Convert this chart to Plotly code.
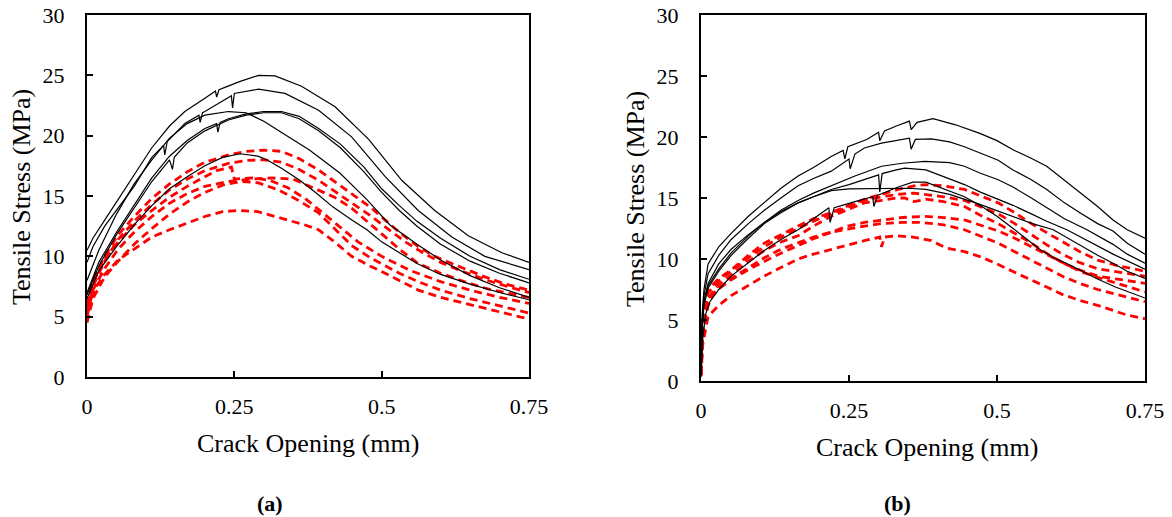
import plotly.graph_objects as go

# ---------------- data ----------------
X_TICKS = [0, 0.25, 0.5, 0.75]
X_TICK_LABELS = ["0", "0.25", "0.5", "0.75"]
Y_TICKS = [0, 5, 10, 15, 20, 25, 30]

# Panel (a) - black solid curves (crack opening mm, stress MPa)
A_BLACK_1 = [(0, 10.5), (0.01, 11.5), (0.03, 13.0), (0.053, 14.7), (0.08, 16.8), (0.11, 19.0), (0.14, 20.8),
             (0.166, 22.0), (0.2, 23.1), (0.218, 23.7), (0.22, 23.2), (0.224, 23.8), (0.234, 24.0), (0.26, 24.5),
             (0.291, 25.0), (0.319, 24.95), (0.364, 24.1), (0.421, 22.4), (0.478, 19.7), (0.534, 16.3),
             (0.59, 13.8), (0.647, 11.7), (0.704, 10.3), (0.75, 9.5)]
A_BLACK_2 = [(0, 9.5), (0.01, 10.8), (0.03, 12.5), (0.053, 14.0), (0.08, 15.8), (0.11, 18.2), (0.13, 19.2),
             (0.132, 18.4), (0.136, 19.5), (0.166, 21.0), (0.19, 21.7), (0.192, 21.1), (0.196, 21.9), (0.2, 22.0),
             (0.24, 23.1), (0.245, 23.3), (0.247, 22.3), (0.25, 23.5), (0.291, 23.85), (0.336, 23.5),
             (0.393, 22.1), (0.449, 19.9), (0.506, 16.6), (0.562, 13.8), (0.619, 11.6), (0.675, 10.0), (0.75, 8.9)]
A_BLACK_3 = [(0, 8.0), (0.02, 10.5), (0.05, 13.5), (0.08, 16.0), (0.11, 18.0), (0.14, 19.8), (0.17, 21.0),
             (0.2, 21.7), (0.24, 22.0), (0.27, 21.9), (0.3, 21.2), (0.333, 20.2), (0.378, 18.8), (0.429, 16.9),
             (0.475, 14.7), (0.514, 12.6), (0.56, 11.0), (0.6, 9.7), (0.65, 8.4), (0.7, 7.4), (0.75, 6.6)]
A_BLACK_4 = [(0, 7.0), (0.02, 9.5), (0.05, 12.0), (0.08, 14.3), (0.11, 16.5), (0.14, 18.3), (0.17, 19.6),
             (0.2, 20.6), (0.22, 21.0), (0.222, 20.3), (0.226, 21.1), (0.24, 21.4), (0.27, 21.8), (0.3, 22.0),
             (0.33, 22.0), (0.36, 21.6), (0.393, 20.6), (0.43, 19.3), (0.47, 17.4), (0.5, 15.6), (0.53, 14.2),
             (0.56, 12.9), (0.6, 11.5), (0.65, 10.0), (0.7, 8.9), (0.75, 8.1)]
A_BLACK_5 = [(0, 6.8), (0.02, 9.2), (0.05, 11.8), (0.08, 14.0), (0.11, 16.2), (0.14, 18.0), (0.145, 17.2),
             (0.148, 18.2), (0.17, 19.4), (0.2, 20.4), (0.24, 21.3), (0.27, 21.7), (0.3, 21.9), (0.33, 21.9),
             (0.36, 21.4), (0.393, 20.4), (0.43, 19.0), (0.47, 17.0), (0.5, 15.3), (0.53, 13.8), (0.56, 12.5),
             (0.6, 11.0), (0.65, 9.6), (0.7, 8.6), (0.75, 7.8)]
A_BLACK_6 = [(0, 6.5), (0.02, 8.8), (0.05, 10.8), (0.08, 12.6), (0.11, 14.2), (0.14, 15.6), (0.17, 16.6),
             (0.2, 17.5), (0.23, 18.2), (0.26, 18.5), (0.29, 18.3), (0.305, 18.0), (0.33, 17.3), (0.361, 16.3),
             (0.39, 15.2), (0.417, 14.1), (0.45, 13.0), (0.475, 12.2), (0.5, 11.2), (0.53, 10.3), (0.56, 9.4),
             (0.6, 8.5), (0.65, 7.7), (0.7, 7.0), (0.75, 6.4)]

# Panel (a) - red dashed curves
A_RED_1 = [(0, 6.0), (0.01, 8.0), (0.03, 10.0), (0.053, 11.8), (0.08, 13.3), (0.11, 14.8), (0.14, 16.0),
           (0.17, 17.0), (0.2, 17.8), (0.24, 18.4), (0.27, 18.7), (0.3, 18.8), (0.33, 18.7), (0.36, 18.1),
           (0.393, 17.15), (0.42, 16.2), (0.449, 15.2), (0.48, 14.1), (0.506, 13.0), (0.53, 12.0), (0.562, 10.8),
           (0.59, 10.0), (0.619, 9.4), (0.65, 8.8), (0.675, 8.3), (0.71, 7.7), (0.75, 7.2)]
A_RED_2 = [(0, 5.5), (0.01, 7.5), (0.03, 9.6), (0.053, 11.4), (0.08, 12.9), (0.11, 14.3), (0.14, 15.5),
           (0.17, 16.4), (0.2, 17.1), (0.24, 17.7), (0.27, 17.95), (0.3, 18.0), (0.33, 17.8), (0.36, 17.2),
           (0.393, 16.3), (0.42, 15.4), (0.45, 14.4), (0.48, 13.4), (0.51, 12.3), (0.54, 11.2), (0.57, 10.3),
           (0.6, 9.5), (0.64, 8.7), (0.68, 8.0), (0.72, 7.4), (0.75, 7.0)]
A_RED_3 = [(0, 5.0), (0.01, 7.2), (0.03, 9.0), (0.053, 10.6), (0.08, 12.0), (0.11, 13.3), (0.14, 14.4),
           (0.17, 15.2), (0.2, 15.8), (0.24, 16.2), (0.28, 16.4), (0.313, 16.5), (0.35, 16.4), (0.393, 15.5),
           (0.42, 14.9), (0.449, 14.0), (0.48, 12.7), (0.506, 11.6), (0.53, 10.6), (0.562, 9.4), (0.6, 8.6),
           (0.64, 7.9), (0.68, 7.3), (0.72, 6.9), (0.75, 6.6)]
A_RED_4 = [(0, 4.5), (0.01, 6.5), (0.03, 8.3), (0.053, 9.6), (0.08, 11.0), (0.11, 12.3), (0.14, 13.5),
           (0.17, 14.5), (0.2, 15.3), (0.23, 15.9), (0.26, 16.2), (0.29, 16.1), (0.325, 15.5), (0.36, 14.6),
           (0.393, 13.6), (0.42, 12.3), (0.449, 10.9), (0.48, 9.9), (0.506, 9.2), (0.53, 8.6), (0.562, 7.9),
           (0.6, 7.2), (0.65, 6.5), (0.7, 5.9), (0.75, 5.3)]
A_RED_5 = [(0, 5.5), (0.014, 7.4), (0.03, 8.5), (0.053, 9.7), (0.08, 10.6), (0.11, 11.6), (0.14, 12.2),
           (0.166, 12.7), (0.2, 13.3), (0.23, 13.7), (0.257, 13.8), (0.29, 13.7), (0.336, 13.1), (0.37, 12.6),
           (0.393, 12.2), (0.42, 11.2), (0.449, 10.0), (0.48, 9.2), (0.506, 8.6), (0.53, 8.0), (0.562, 7.2),
           (0.6, 6.6), (0.65, 6.0), (0.7, 5.4), (0.75, 4.8)]
A_RED_6 = [(0, 5.8), (0.01, 7.8), (0.03, 9.8), (0.053, 11.2), (0.08, 12.6), (0.11, 13.8), (0.14, 14.9),
           (0.17, 15.8), (0.2, 16.6), (0.22, 17.1), (0.245, 17.4), (0.25, 16.4), (0.28, 16.5), (0.31, 16.3),
           (0.34, 15.7), (0.37, 14.8), (0.4, 13.6), (0.43, 12.4), (0.46, 11.2), (0.5, 10.0), (0.55, 8.8),
           (0.6, 7.9), (0.65, 7.2), (0.7, 6.6), (0.75, 6.1)]

# Panel (b) - black solid curves
B_BLACK_1 = [(0, 0.8), (0.002, 5.5), (0.005, 7.5), (0.012, 9.6), (0.03, 11.0), (0.051, 12.1), (0.08, 13.5),
             (0.107, 14.6), (0.135, 15.8), (0.164, 16.8), (0.19, 17.5), (0.22, 18.4), (0.24, 18.9), (0.243, 18.2),
             (0.248, 19.2), (0.28, 19.8), (0.30, 20.4), (0.302, 19.7), (0.31, 20.5), (0.33, 20.9), (0.352, 21.3),
             (0.355, 20.6), (0.365, 21.2), (0.392, 21.5), (0.43, 21.0), (0.471, 20.3), (0.5, 19.7),
             (0.527, 18.95), (0.556, 18.3), (0.584, 17.6), (0.61, 16.6), (0.64, 15.4), (0.67, 14.3),
             (0.696, 13.2), (0.72, 12.4), (0.75, 11.7)]
B_BLACK_2 = [(0, 0.6), (0.002, 5.0), (0.005, 7.0), (0.012, 8.8), (0.03, 10.3), (0.051, 11.6), (0.08, 12.9),
             (0.107, 14.0), (0.135, 15.0), (0.164, 16.0), (0.19, 16.6), (0.22, 17.2), (0.25, 18.2), (0.252, 17.4),
             (0.26, 18.6), (0.276, 19.1), (0.305, 19.5), (0.33, 19.7), (0.352, 19.9), (0.355, 19.0),
             (0.362, 19.8), (0.389, 19.85), (0.42, 19.6), (0.445, 19.2), (0.471, 18.7), (0.502, 18.1),
             (0.527, 17.3), (0.558, 16.5), (0.584, 15.7), (0.614, 14.6), (0.64, 13.8), (0.67, 12.9),
             (0.696, 12.3), (0.72, 11.3), (0.75, 10.4)]
B_BLACK_3 = [(0, 0.5), (0.002, 4.5), (0.005, 6.5), (0.012, 7.8), (0.03, 9.2), (0.051, 10.5), (0.08, 11.9),
             (0.107, 13.0), (0.135, 14.0), (0.164, 14.8), (0.19, 15.4), (0.22, 16.0), (0.26, 16.8), (0.305, 17.6),
             (0.34, 17.85), (0.378, 18.0), (0.42, 17.9), (0.445, 17.6), (0.471, 17.05), (0.502, 16.5),
             (0.527, 15.9), (0.558, 15.0), (0.584, 14.2), (0.614, 13.3), (0.652, 12.4), (0.696, 11.2),
             (0.72, 10.4), (0.75, 9.65)]
B_BLACK_4 = [(0, 0.5), (0.002, 4.2), (0.005, 6.2), (0.012, 7.6), (0.03, 9.0), (0.051, 10.3), (0.08, 11.7),
             (0.107, 12.9), (0.135, 13.8), (0.164, 14.6), (0.19, 15.1), (0.22, 15.7), (0.25, 16.1), (0.276, 16.5),
             (0.30, 16.9), (0.302, 15.5), (0.306, 17.0), (0.33, 17.3), (0.344, 17.45), (0.38, 17.3),
             (0.416, 16.6), (0.445, 16.1), (0.471, 15.5), (0.502, 14.9), (0.527, 14.4), (0.558, 13.7),
             (0.584, 13.1), (0.618, 12.4), (0.668, 11.1), (0.696, 10.4), (0.75, 9.16)]
B_BLACK_5 = [(0, 0.5), (0.002, 4.5), (0.005, 6.5), (0.012, 8.0), (0.03, 9.6), (0.051, 10.8), (0.08, 12.0),
             (0.107, 13.0), (0.135, 13.9), (0.164, 14.6), (0.19, 15.1), (0.22, 15.6), (0.25, 15.75),
             (0.30, 15.8), (0.35, 15.8), (0.38, 15.7), (0.42, 15.3), (0.47, 14.5), (0.52, 13.6), (0.56, 12.9),
             (0.595, 12.4), (0.62, 11.7), (0.64, 11.1), (0.67, 10.3), (0.696, 9.65), (0.72, 9.0), (0.75, 8.4)]
B_BLACK_6 = [(0, 0.3), (0.003, 3.5), (0.008, 5.5), (0.015, 6.5), (0.03, 7.5), (0.051, 8.6), (0.08, 9.7),
             (0.107, 10.7), (0.135, 11.6), (0.164, 12.4), (0.19, 13.3), (0.216, 14.2), (0.218, 13.0),
             (0.225, 14.2), (0.26, 14.7), (0.29, 15.1), (0.292, 14.3), (0.298, 15.2), (0.333, 15.9),
             (0.358, 16.3), (0.38, 16.3), (0.414, 15.7), (0.445, 15.1), (0.471, 14.4), (0.50, 13.5),
             (0.53, 12.4), (0.557, 11.4), (0.572, 10.8), (0.60, 10.0), (0.617, 9.65), (0.64, 9.1),
             (0.668, 8.4), (0.70, 7.7), (0.75, 6.8)]

# Panel (b) - red dashed curves
B_RED_1 = [(0, 0.6), (0.003, 4.5), (0.012, 7.5), (0.03, 8.4), (0.051, 9.1), (0.08, 10.3), (0.107, 11.3),
           (0.135, 12.0), (0.164, 12.7), (0.19, 13.3), (0.22, 13.8), (0.25, 14.4), (0.276, 14.9), (0.305, 15.3),
           (0.333, 15.7), (0.36, 16.0), (0.378, 16.1), (0.41, 16.0), (0.445, 15.7), (0.471, 15.2),
           (0.502, 14.6), (0.53, 13.8), (0.558, 12.9), (0.586, 12.1), (0.614, 11.3), (0.64, 10.6),
           (0.67, 9.9), (0.70, 9.5), (0.75, 9.0)]
B_RED_2 = [(0, 0.5), (0.003, 4.2), (0.012, 6.8), (0.03, 7.9), (0.051, 8.7), (0.08, 9.8), (0.107, 10.7),
           (0.135, 11.4), (0.164, 11.9), (0.19, 12.7), (0.22, 13.5), (0.25, 14.1), (0.276, 14.6), (0.305, 14.8),
           (0.33, 15.0), (0.344, 15.0), (0.36, 14.7), (0.38, 14.9), (0.41, 14.7), (0.445, 14.3), (0.471, 13.6),
           (0.502, 12.9), (0.53, 12.1), (0.558, 11.3), (0.586, 10.4), (0.614, 9.6), (0.64, 9.1),
           (0.67, 8.6), (0.71, 8.3), (0.75, 8.0)]
B_RED_3 = [(0, 0.5), (0.003, 4.0), (0.012, 6.2), (0.023, 7.3), (0.051, 8.3), (0.079, 9.1), (0.107, 9.8),
           (0.136, 10.5), (0.164, 11.1), (0.192, 11.7), (0.22, 12.2), (0.248, 12.7), (0.276, 13.0),
           (0.305, 13.2), (0.34, 13.4), (0.378, 13.5), (0.41, 13.4), (0.445, 13.2), (0.471, 12.8),
           (0.502, 12.3), (0.53, 11.7), (0.558, 11.0), (0.586, 10.3), (0.614, 9.6), (0.64, 9.0),
           (0.67, 8.5), (0.71, 7.9), (0.75, 7.3)]
B_RED_4 = [(0, 0.4), (0.003, 3.0), (0.012, 5.3), (0.03, 6.2), (0.051, 7.0), (0.08, 7.8), (0.107, 8.6),
           (0.135, 9.3), (0.164, 10.0), (0.19, 10.4), (0.22, 10.8), (0.25, 11.2), (0.276, 11.5), (0.302, 11.8),
           (0.305, 11.0), (0.31, 11.8), (0.33, 11.9), (0.358, 11.8), (0.389, 11.5), (0.414, 10.9),
           (0.445, 10.6), (0.471, 10.2), (0.5, 9.6), (0.527, 8.97), (0.558, 8.3), (0.584, 7.7), (0.61, 7.1),
           (0.64, 6.6), (0.67, 6.2), (0.696, 5.8), (0.72, 5.4), (0.75, 5.1)]
B_RED_5 = [(0, 0.5), (0.003, 4.3), (0.012, 6.5), (0.03, 7.6), (0.051, 8.4), (0.08, 9.3), (0.107, 10.1),
           (0.135, 10.8), (0.164, 11.3), (0.19, 11.8), (0.22, 12.2), (0.25, 12.5), (0.276, 12.7), (0.305, 12.9),
           (0.34, 13.0), (0.37, 13.0), (0.41, 12.8), (0.445, 12.4), (0.471, 11.9), (0.502, 11.3),
           (0.53, 10.6), (0.558, 9.9), (0.586, 9.2), (0.614, 8.5), (0.64, 8.0), (0.67, 7.5), (0.71, 7.0),
           (0.75, 6.5)]
B_RED_6 = [(0, 0.6), (0.003, 4.6), (0.012, 7.2), (0.03, 8.2), (0.051, 9.0), (0.08, 10.1), (0.107, 11.0),
           (0.135, 11.8), (0.164, 12.5), (0.19, 13.1), (0.22, 13.7), (0.25, 14.3), (0.276, 14.8), (0.305, 15.1),
           (0.333, 15.3), (0.36, 15.4), (0.38, 15.3), (0.41, 15.1), (0.445, 14.8), (0.471, 14.3),
           (0.502, 13.7), (0.53, 12.9), (0.558, 12.0), (0.586, 11.1), (0.614, 10.3), (0.64, 9.7),
           (0.67, 9.2), (0.71, 8.9), (0.75, 8.6)]

A_BLACK = [A_BLACK_1, A_BLACK_2, A_BLACK_3, A_BLACK_4, A_BLACK_5, A_BLACK_6]
A_RED = [A_RED_1, A_RED_2, A_RED_3, A_RED_4, A_RED_5, A_RED_6]
B_BLACK = [B_BLACK_1, B_BLACK_2, B_BLACK_3, B_BLACK_4, B_BLACK_5, B_BLACK_6]
B_RED = [B_RED_1, B_RED_2, B_RED_3, B_RED_4, B_RED_5, B_RED_6]

Y_TITLE = "Tensile Stress (MPa)"
X_TITLE = "Crack Opening (mm)"
PANEL_LABELS = ["(a)", "(b)"]

# ---------------- figure ----------------
W, H = 1172, 517
FONT = "Times New Roman, Liberation Serif, serif"

fig = go.Figure()


def add_curves(curves, xa, ya, red):
    for c in curves:
        xs = [p[0] for p in c]
        ys = [p[1] for p in c]
        if red:
            line = dict(color="#ff0000", width=2.8, dash="8px,5px")
        else:
            line = dict(color="#000000", width=1.2)
        fig.add_trace(go.Scatter(x=xs, y=ys, mode="lines", line=line, xaxis=xa, yaxis=ya,
                                 showlegend=False, hoverinfo="skip"))


add_curves(A_RED, "x", "y", True)
add_curves(A_BLACK, "x", "y", False)
add_curves(B_RED, "x2", "y2", True)
add_curves(B_BLACK, "x2", "y2", False)

axis_common = dict(showgrid=False, zeroline=False, showline=True, mirror=True, linecolor="black",
                   linewidth=2, ticks="inside", ticklen=6, tickwidth=1.5, tickcolor="black",
                   automargin=False, ticklabeloverflow="allow",
                   tickfont=dict(family=FONT, size=22, color="black"))

xa = dict(axis_common, range=[0, 0.75], tickvals=X_TICKS, ticktext=X_TICK_LABELS, ticklabelstandoff=9)
ya = dict(axis_common, range=[0, 30], tickvals=Y_TICKS, ticklabelstandoff=16)


def px2paper_x(px):
    return px / W


def px2paper_y(py):
    return 1 - py / H


fig.update_layout(
    width=W, height=H,
    margin=dict(l=0, r=0, t=0, b=0),
    paper_bgcolor="white", plot_bgcolor="white",
    xaxis=dict(xa, domain=[px2paper_x(87), px2paper_x(529)], anchor="y"),
    yaxis=dict(ya, domain=[px2paper_y(377), px2paper_y(15)], anchor="x"),
    xaxis2=dict(xa, domain=[px2paper_x(701), px2paper_x(1145)], anchor="y2"),
    yaxis2=dict(ya, domain=[px2paper_y(381), px2paper_y(15)], anchor="x2"),
    showlegend=False,
)

annots = [
    dict(text=Y_TITLE, x=px2paper_x(22), y=px2paper_y(197), textangle=-90, font=dict(size=26)),
    dict(text=Y_TITLE, x=px2paper_x(635), y=px2paper_y(199), textangle=-90, font=dict(size=26)),
    dict(text=X_TITLE, x=px2paper_x(308), y=px2paper_y(443), font=dict(size=26)),
    dict(text=X_TITLE, x=px2paper_x(927), y=px2paper_y(447), font=dict(size=26)),
    dict(text="<b>" + PANEL_LABELS[0] + "</b>", x=px2paper_x(270), y=px2paper_y(503), font=dict(size=22)),
    dict(text="<b>" + PANEL_LABELS[1] + "</b>", x=px2paper_x(897), y=px2paper_y(503), font=dict(size=22)),
]
for a in annots:
    a.update(xref="paper", yref="paper", showarrow=False, xanchor="center", yanchor="middle")
    a["font"].update(family=FONT, color="black")
    fig.add_annotation(**a)

# remove the browser's default 8px page margin so the figure fills the window exactly
fig.write_html("out.html", config={"displayModeBar": False},
               post_script="document.body.style.margin='0px';")
